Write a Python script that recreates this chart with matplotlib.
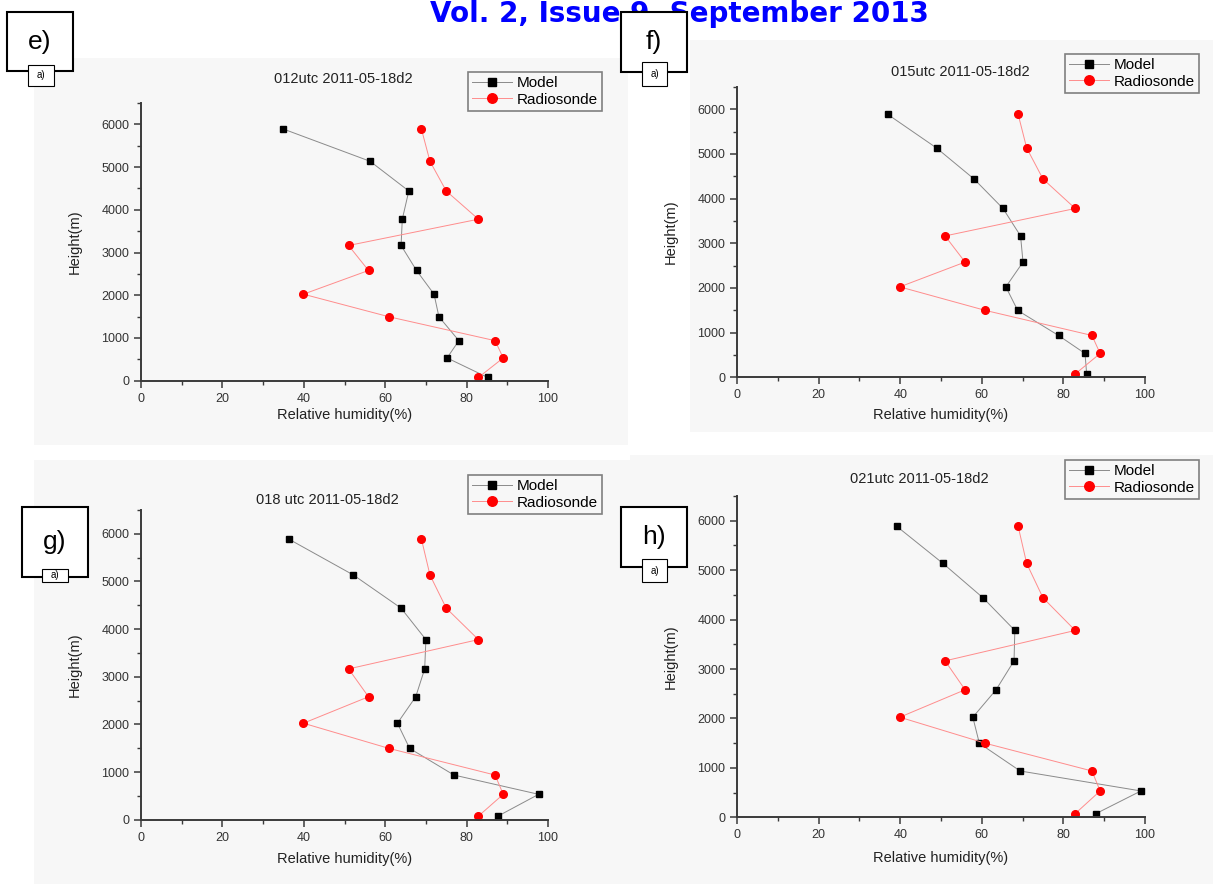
import matplotlib
matplotlib.use("Agg")
import matplotlib.pyplot as plt
from matplotlib.patches import Rectangle
from matplotlib.ticker import MultipleLocator

W, H = 1213, 884

# --- data ---
heights = [5890, 5135, 4440, 3780, 3165, 2580, 2025, 1497, 937, 533, 75]
radiosonde = [68.9, 71.0, 75.0, 82.9, 51.0, 55.9, 39.9, 60.9, 87.0, 89.0, 82.9]
model_012 = [35.0, 56.3, 65.8, 64.2, 63.9, 67.7, 72.0, 73.2, 78.1, 75.2, 85.2]
model_015 = [36.9, 48.9, 58.1, 65.2, 69.5, 70.1, 65.9, 68.8, 78.8, 85.3, 85.7]
model_018 = [36.3, 52.2, 63.9, 70.0, 69.7, 67.5, 63.0, 66.0, 76.9, 97.7, 87.7]
model_021 = [39.1, 50.5, 60.3, 68.1, 67.9, 63.5, 57.8, 59.4, 69.4, 99.0, 88.0]

titles = ["012utc 2011-05-18d2", "015utc 2011-05-18d2",
          "018 utc 2011-05-18d2", "021utc 2011-05-18d2"]
panel_tags = ["e)", "f)", "g)", "h)"]
models = [model_012, model_015, model_018, model_021]

# pixel layout: axes (left, right, y0, ytop), title centre, legend corner, xlabel top
axes_px = [(141, 548, 380.7, 103), (737, 1145, 377.3, 87),
           (141, 548, 819.7, 510), (737, 1145, 817.3, 496)]
title_px = [(343, 79), (960, 72), (327, 500), (919, 479)]
legend_px = [(468, 72), (1065, 54), (468, 475), (1065, 460)]
xlabel_top = [408, 408, 852, 851]
bg_px = [(34, 58, 628, 445), (690, 40, 1213, 432),
         (34, 460, 630, 884), (630, 455, 1213, 884)]
tag_px = [(7, 12, 73, 71), (621, 12, 687, 72), (22, 507, 88, 577), (621, 507, 687, 567)]
small_px = [(28, 65, 54, 86), (642, 62, 667, 86), (42, 569, 68, 582), (642, 559, 667, 582)]


def fx(x):
    return x / W


def fy(y):
    return 1 - y / H


plt.rcParams['font.family'] = ['Liberation Sans', 'DejaVu Sans']
fig = plt.figure(figsize=(W / 100, H / 100), dpi=100)
fig.patch.set_facecolor("white")

for (x0, y0, x1, y1) in bg_px:
    fig.patches.append(Rectangle((fx(x0), fy(y1)), fx(x1 - x0), (y1 - y0) / H,
                                 transform=fig.transFigure, facecolor="#f7f7f7",
                                 edgecolor="none", zorder=-5))

# journal header, right at the top edge
fig.text(fx(679), fy(22), "Vol. 2, Issue 9, September 2013", color="#0000ff",
         fontsize=20, fontweight="bold", family="DejaVu Sans",
         ha="center", va="baseline")

for i in range(4):
    left, right, ybot, ytop = axes_px[i]
    ax = fig.add_axes([fx(left), fy(ybot), fx(right - left), (ybot - ytop) / H])
    ax.patch.set_alpha(0)
    ax.plot(models[i], heights, color="#8a8a8a", lw=0.7, marker="s", ms=5,
            mfc="black", mec="black", label="Model")
    ax.plot(radiosonde, heights, color="#ff8c8c", lw=0.7, marker="o", ms=5.5,
            mfc="red", mec="red", label="Radiosonde")
    ax.set_xlim(0, 100)
    ax.set_ylim(0, 6500)
    ax.xaxis.set_major_locator(MultipleLocator(20))
    ax.xaxis.set_minor_locator(MultipleLocator(10))
    ax.yaxis.set_major_locator(MultipleLocator(1000))
    ax.yaxis.set_minor_locator(MultipleLocator(500))
    for s in ["top", "right"]:
        ax.spines[s].set_visible(False)
    for s in ["left", "bottom"]:
        ax.spines[s].set_color("#3a3a3a")
        ax.spines[s].set_linewidth(1.4)
    ax.tick_params(which="major", length=5, width=1.1, color="#3a3a3a",
                   labelsize=9, labelcolor="#333333")
    ax.tick_params(which="minor", length=3, width=1.0, color="#3a3a3a")
    ax.set_ylabel("Height(m)", fontsize=10.5, color="#222222")
    ax.yaxis.set_label_coords(-0.146, 0.5)
    ax.set_xlabel("Relative humidity(%)", fontsize=10.5, color="#222222")
    ax.xaxis.set_label_coords(0.5, -(xlabel_top[i] - ybot) / (ybot - ytop))

    tx, ty = title_px[i]
    fig.text(fx(tx), fy(ty), titles[i], fontsize=10.5, color="#222222",
             ha="center", va="center")

    lx, ly = legend_px[i]
    leg = ax.legend(loc="upper left", bbox_to_anchor=(fx(lx), fy(ly)),
                    bbox_transform=fig.transFigure, fontsize=11,
                    frameon=True, fancybox=False, handlelength=2.6,
                    handletextpad=0.3, labelspacing=0.15, borderpad=0.28,
                    borderaxespad=0, markerscale=1.25)
    leg.get_frame().set_edgecolor("#808080")
    leg.get_frame().set_linewidth(1.2)
    leg.get_frame().set_facecolor("#f7f7f7")
    leg.get_frame().set_alpha(1)

    # panel tag boxes
    x0, y0, x1, y1 = tag_px[i]
    fig.patches.append(Rectangle((fx(x0), fy(y1)), fx(x1 - x0), (y1 - y0) / H,
                                 transform=fig.transFigure, facecolor="white",
                                 edgecolor="black", lw=1.5, zorder=5))
    fig.text(fx((x0 + x1) / 2), fy((y0 + y1) / 2), panel_tags[i],
             fontsize=19, ha="center", va="center", zorder=6)
    x0, y0, x1, y1 = small_px[i]
    fig.patches.append(Rectangle((fx(x0), fy(y1)), fx(x1 - x0), (y1 - y0) / H,
                                 transform=fig.transFigure, facecolor="white",
                                 edgecolor="black", lw=0.8, zorder=7))
    fig.text(fx((x0 + x1) / 2), fy((y0 + y1) / 2), "a)",
             fontsize=7, ha="center", va="center", zorder=8)

fig.savefig("out.png", dpi=100)
